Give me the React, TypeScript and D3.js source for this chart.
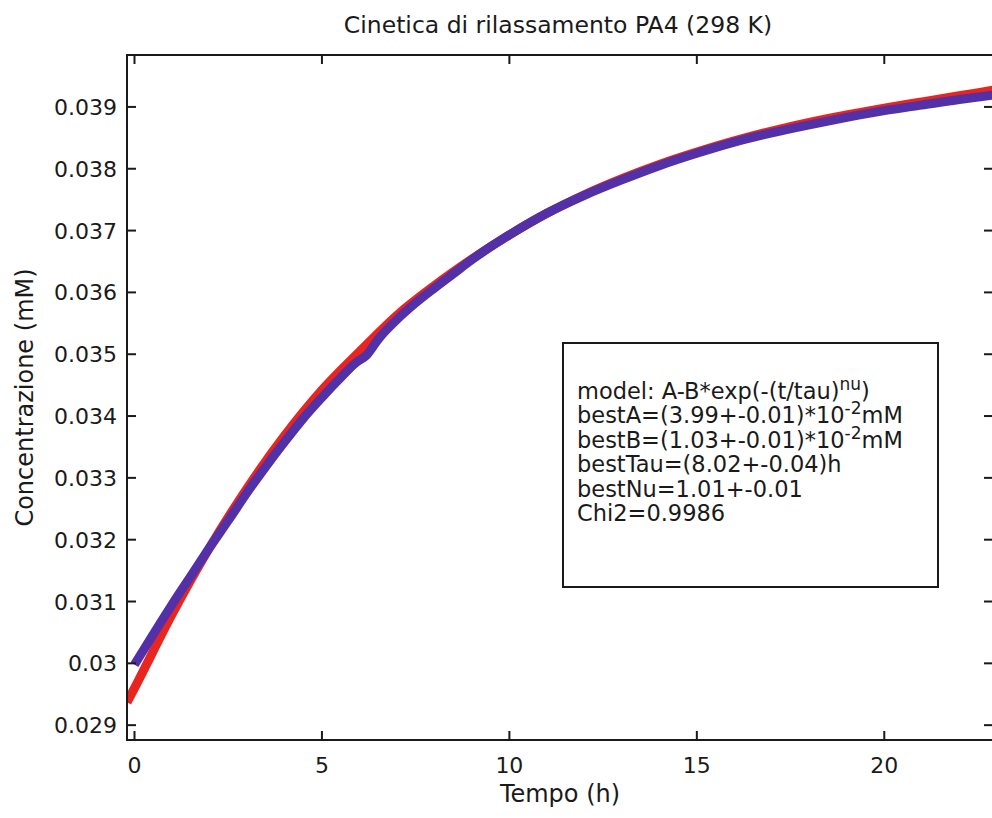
import React, { useRef, useLayoutEffect } from 'react';
import * as d3 from 'd3';

// tick values and labels (MATLAB style)
const xTicks = [0, 5, 10, 15, 20];
const yTicks = [0.029, 0.03, 0.031, 0.032, 0.033, 0.034, 0.035, 0.036, 0.037, 0.038, 0.039];
const yTickLabels = ['0.029', '0.03', '0.031', '0.032', '0.033', '0.034', '0.035', '0.036', '0.037', '0.038', '0.039'];

// fitted curve (red)
const fitTime = [-0.2, 0, 1, 2, 3, 4, 5, 6, 7, 8, 9, 10, 11, 12, 13, 14, 15, 16, 17, 18, 19, 20, 21, 22, 23];
const fitConc = [
  0.02937, 0.0296, 0.03079, 0.03187, 0.03283, 0.03368, 0.03442, 0.03504, 0.03563, 0.03611, 0.03654,
  0.03693, 0.03728, 0.03758, 0.03784, 0.03807, 0.03827, 0.03845, 0.03861, 0.03875, 0.03887, 0.03898,
  0.03908, 0.03918, 0.03928,
];

// measured data (blue)
const dataTime = [
  0, 0.5, 1, 1.5, 2, 2.5, 3, 3.5, 4, 4.5, 5, 5.5, 5.9, 6.2, 6.5, 7, 7.5, 8, 8.5, 9, 10, 11, 12, 13, 14,
  15, 16, 17, 18, 19, 20, 21, 22, 22.9,
];
const dataConc = [
  0.02998, 0.03047, 0.03095, 0.03141, 0.03187, 0.03231, 0.03276, 0.03318, 0.03358, 0.03396, 0.0343,
  0.03462, 0.03486, 0.03499, 0.03524, 0.03556, 0.03583, 0.03607, 0.0363, 0.03653, 0.03693, 0.03728,
  0.03757, 0.03782, 0.03805, 0.03825, 0.03843, 0.03858, 0.03871, 0.03883, 0.03894, 0.03903, 0.03912,
  0.03919,
];

// text box contents: [text, isSuperscript]
const boxLines: [string, boolean][][] = [
  [['model: A-B*exp(-(t/tau)', false], ['nu', true], [')', false]],
  [['bestA=(3.99+-0.01)*10', false], ['-2', true], ['mM', false]],
  [['bestB=(1.03+-0.01)*10', false], ['-2', true], ['mM', false]],
  [['bestTau=(8.02+-0.04)h', false]],
  [['bestNu=1.01+-0.01', false]],
  [['Chi2=0.9986', false]],
];

const App = () => {
  const width = 992;
  const height = 818;
  const ref = useRef(null);

  useLayoutEffect(() => {
    const margin = { top: 55, right: -1, bottom: 78, left: 127 };
    const x = d3.scaleLinear().domain([-0.2, 22.9]).range([margin.left, width - margin.right]);
    const y = d3.scaleLinear().domain([0.02876, 0.03984]).range([height - margin.bottom, margin.top]);
    const font = '"DejaVu Sans", Verdana, sans-serif';
    const ink = '#1a1a1a';

    const svg = d3.select(ref.current);
    svg.selectAll('*').remove();
    svg.append('rect').attr('width', width).attr('height', height).attr('fill', 'white');

    svg
      .append('clipPath')
      .attr('id', 'plot-clip')
      .append('rect')
      .attr('x', margin.left)
      .attr('y', margin.top)
      .attr('width', width - margin.right - margin.left)
      .attr('height', height - margin.bottom - margin.top);

    const line = d3
      .line<[number, number]>()
      .x((d) => x(d[0]))
      .y((d) => y(d[1]))
      .curve(d3.curveMonotoneX);

    const plot = svg.append('g').attr('clip-path', 'url(#plot-clip)');
    plot
      .append('path')
      .datum(fitTime.map((t, i) => [t, fitConc[i]] as [number, number]))
      .attr('d', line)
      .attr('fill', 'none')
      .attr('stroke', '#e8261f')
      .attr('stroke-width', 9);
    plot
      .append('path')
      .datum(dataTime.map((t, i) => [t, dataConc[i]] as [number, number]))
      .attr('d', line)
      .attr('fill', 'none')
      .attr('stroke', '#5230a8')
      .attr('stroke-width', 9);

    // axes box + inner ticks on all sides
    const x0 = margin.left;
    const x1 = width - margin.right;
    const y0 = margin.top;
    const y1 = height - margin.bottom;
    svg
      .append('rect')
      .attr('x', x0)
      .attr('y', y0)
      .attr('width', x1 - x0)
      .attr('height', y1 - y0)
      .attr('fill', 'none')
      .attr('stroke', ink)
      .attr('stroke-width', 2);

    const tickLen = 9;
    const ticks = svg.append('g').attr('stroke', ink).attr('stroke-width', 2);
    xTicks.forEach((t) => {
      ticks.append('line').attr('x1', x(t)).attr('x2', x(t)).attr('y1', y1).attr('y2', y1 - tickLen);
      ticks.append('line').attr('x1', x(t)).attr('x2', x(t)).attr('y1', y0).attr('y2', y0 + tickLen);
    });
    yTicks.forEach((t) => {
      ticks.append('line').attr('x1', x0).attr('x2', x0 + tickLen).attr('y1', y(t)).attr('y2', y(t));
      ticks.append('line').attr('x1', x1).attr('x2', x1 - tickLen).attr('y1', y(t)).attr('y2', y(t));
    });

    const labels = svg.append('g').attr('font-family', font).attr('fill', ink).attr('font-size', 22);
    xTicks.forEach((t) => {
      labels.append('text').attr('x', x(t)).attr('y', 773).attr('text-anchor', 'middle').text(t);
    });
    yTicks.forEach((t, i) => {
      labels
        .append('text')
        .attr('x', 117)
        .attr('y', y(t) + 8)
        .attr('text-anchor', 'end')
        .text(yTickLabels[i]);
    });

    labels
      .append('text')
      .attr('x', (x0 + x1) / 2)
      .attr('y', 802)
      .attr('font-size', 24)
      .attr('text-anchor', 'middle')
      .text('Tempo (h)');
    labels
      .append('text')
      .attr('transform', `translate(33, ${(y0 + y1) / 2}) rotate(-90)`)
      .attr('font-size', 24)
      .attr('text-anchor', 'middle')
      .text('Concentrazione (mM)');
    labels
      .append('text')
      .attr('x', (x0 + x1) / 2 - 2)
      .attr('y', 33)
      .attr('font-size', 23.5)
      .attr('text-anchor', 'middle')
      .text('Cinetica di rilassamento PA4 (298 K)');

    // annotation box
    const box = svg.append('g');
    box
      .append('rect')
      .attr('x', 563)
      .attr('y', 343)
      .attr('width', 375)
      .attr('height', 244)
      .attr('fill', 'white')
      .attr('stroke', ink)
      .attr('stroke-width', 2);
    boxLines.forEach((parts, i) => {
      const txt = box
        .append('text')
        .attr('x', 577)
        .attr('y', 399 + i * 24.4)
        .attr('font-family', font)
        .attr('font-size', 22.5)
        .attr('fill', ink);
      let raised = false;
      parts.forEach(([s, sup]) => {
        const ts = txt.append('tspan').text(s);
        if (sup && !raised) {
          ts.attr('dy', -9).attr('font-size', 17);
          raised = true;
        } else if (!sup && raised) {
          ts.attr('dy', 9);
          raised = false;
        }
      });
    });
  }, []);

  return (
    <div style={{ position: 'absolute', left: 0, top: 0, width, height }}>
      <svg ref={ref} width={width} height={height} style={{ display: 'block' }} />
    </div>
  );
};

export default App;
